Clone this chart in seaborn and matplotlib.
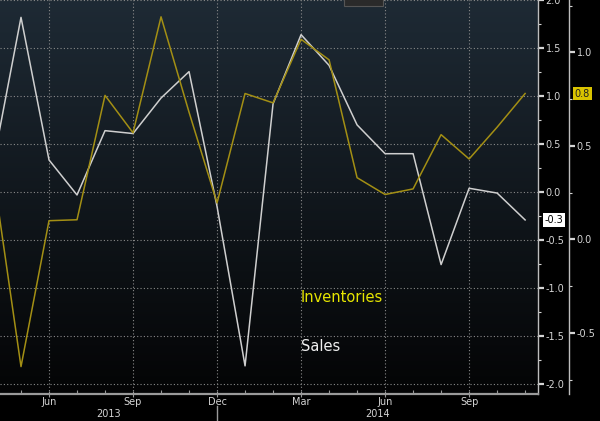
import numpy as np
import pandas as pd
import matplotlib
matplotlib.use("Agg")
import matplotlib.pyplot as plt
import seaborn as sns
from matplotlib.transforms import blended_transform_factory
from matplotlib.ticker import MultipleLocator, FormatStrFormatter
from matplotlib.patches import Rectangle

# ---------------- data ----------------
months = ["Apr", "May", "Jun", "Jul", "Aug", "Sep", "Oct", "Nov", "Dec",
          "Jan", "Feb", "Mar", "Apr", "May", "Jun", "Jul", "Aug", "Sep", "Oct", "Nov"]
years = [2013] * 9 + [2014] * 11
sales = [0.29, 1.82, 0.335, -0.03, 0.64, 0.61, 0.98, 1.255, -0.15, -1.81,
         0.92, 1.64, 1.32, 0.70, 0.40, 0.40, -0.755, 0.04, -0.01, -0.29]
inventories = [0.36, -0.68, 0.10, 0.105, 0.77, 0.57, 1.19, 0.68, 0.195, 0.78,
               0.73, 1.07, 0.96, 0.33, 0.24, 0.27, 0.56, 0.43, 0.60, 0.78]
major_months = ["Mar", "Jun", "Sep", "Dec"]
year_labels = ["2013", "2014"]

df = pd.DataFrame({"t": np.arange(len(months)), "month": months, "year": years,
                   "Sales": sales, "Inventories": inventories})

# ---------------- figure ----------------
W, H = 600, 421
fig = plt.figure(figsize=(W / 100, H / 100), dpi=100, facecolor="black")
ax_bottom_px = H - 393.7
ax = fig.add_axes([0, ax_bottom_px / H, 538 / W, 393.7 / H])
ax.set_facecolor("black")

# gradient background
grad = np.linspace(0, 1, 256)[:, None]
top = np.array([0.118, 0.165, 0.207])
bot = np.array([0.015, 0.017, 0.02])
img = top[None, None, :] * (1 - grad[:, :, None]) + bot[None, None, :] * grad[:, :, None]
ax.imshow(img, extent=[0, 1, 0, 1], transform=ax.transAxes, aspect="auto", zorder=-5)

ax2 = ax.twinx()

sns.lineplot(data=df, x="t", y="Sales", ax=ax, color="#cfcfcf", linewidth=1.1)
sns.lineplot(data=df, x="t", y="Inventories", ax=ax2, color="#a38f14", linewidth=1.1)

for a in (ax, ax2):
    a.set_xlabel("")
    a.set_ylabel("")

tick_col = "#d4d4d4"
spine_col = "#bdbdbd"

# spines
for s in ["left", "top"]:
    ax.spines[s].set_visible(False)
    ax2.spines[s].set_visible(False)
ax2.spines["bottom"].set_visible(False)
ax.spines["bottom"].set_color("#9a9a9a")
ax.spines["bottom"].set_linewidth(1.6)
ax.spines["right"].set_color(spine_col)
ax.spines["right"].set_linewidth(1.0)
ax2.spines["right"].set_color(spine_col)
ax2.spines["right"].set_linewidth(1.0)
ax2.spines["right"].set_position(("outward", 31 * 72 / 100))

# inner (Sales) y axis on the right
ax.yaxis.tick_right()
ax.yaxis.set_major_locator(MultipleLocator(0.5))
ax.yaxis.set_minor_locator(MultipleLocator(0.25))
ax.yaxis.set_major_formatter(FormatStrFormatter("%.1f"))
ax.tick_params(axis="y", which="major", direction="out", length=4, width=1.6,
               color=tick_col, labelcolor=tick_col, labelsize=7, pad=1.5)
ax.tick_params(axis="y", which="minor", direction="out", length=2.5, width=0.8,
               color=tick_col)

# outer (Inventories) y axis
ax2.yaxis.set_major_locator(MultipleLocator(0.5))
ax2.yaxis.set_minor_locator(MultipleLocator(0.25))
ax2.yaxis.set_major_formatter(FormatStrFormatter("%.1f"))
ax2.tick_params(axis="y", which="major", direction="out", length=4, width=1.6,
                color=tick_col, labelcolor=tick_col, labelsize=7, pad=1.5)
ax2.tick_params(axis="y", which="minor", direction="out", length=2.5, width=0.8,
                color=tick_col)

# x axis
major_pos = [t for t, m in zip(df["t"], months) if m in major_months]
major_lab = [months[t] for t in major_pos]
ax.set_xticks(major_pos)
ax.set_xticklabels(major_lab)
ax.set_xticks(list(df["t"]), minor=True)
ax.tick_params(axis="x", which="major", direction="inout", length=5, width=0.8,
               color="#9a9a9a", labelcolor=tick_col, labelsize=7, pad=0)
ax.tick_params(axis="x", which="minor", direction="in", length=3, width=0.8,
               color="#9a9a9a")

# limits (after ticks so they are not expanded)
ax.set_xlim(0.25, 19.46)
ax.set_ylim(-2.10, 2.001)
ax2.set_ylim(-0.825, 1.280)

# grid
ax.grid(True, which="major", axis="both", color="#8a8a8a", linestyle=(0, (1, 2)),
        linewidth=0.8, zorder=0)

# year labels and separator
trans = blended_transform_factory(ax.transData, ax.transAxes)
t_arr = np.array(df["t"])
yrs = np.array(years)
xmin, xmax = ax.get_xlim()
sep = t_arr[yrs == 2013].max()
spans = {"2013": (xmin, sep), "2014": (sep, xmax)}
for yl in year_labels:
    lo, hi = spans[yl]
    ax.text((lo + hi) / 2, -0.051, yl, transform=trans, ha="center", va="center",
            color=tick_col, fontsize=7, clip_on=False)
ax.plot([sep, sep], [-0.031, -0.075], transform=trans, color="#9a9a9a",
        linewidth=1.0, clip_on=False)
ax.set_xlim(0.25, 19.46)

# series labels inside plot
ax.text(11, -1.10, "Inventories", color="#e6e600", fontsize=10.5, ha="left", va="center")
ax.text(11, -1.605, "Sales", color="#f0f0f0", fontsize=10.5, ha="left", va="center")

# last value tags
tr1 = blended_transform_factory(ax.transAxes, ax.transData)
ax.text(1.012, sales[-1], f"{sales[-1]:.1f}", transform=tr1, ha="left", va="center",
        color="black", fontsize=7, clip_on=False, zorder=20,
        bbox=dict(boxstyle="square,pad=0.2", fc="white", ec="none"))
tr2 = blended_transform_factory(ax.transAxes, ax2.transData)
ax2.text(1.068, inventories[-1], f"{inventories[-1]:.1f}", transform=tr2, ha="left",
         va="center", color="#202020", fontsize=7, clip_on=False, zorder=20,
         bbox=dict(boxstyle="square,pad=0.2", fc="#d9c300", ec="none"))

# cropped legend box at top
fig.patches.append(Rectangle((344 / W, (H - 6) / H), 39 / W, 10 / H,
                             transform=fig.transFigure, fc="#2a2a2a", ec="#555555",
                             lw=0.8, zorder=30))

fig.savefig("out.png", dpi=100, facecolor="black")
